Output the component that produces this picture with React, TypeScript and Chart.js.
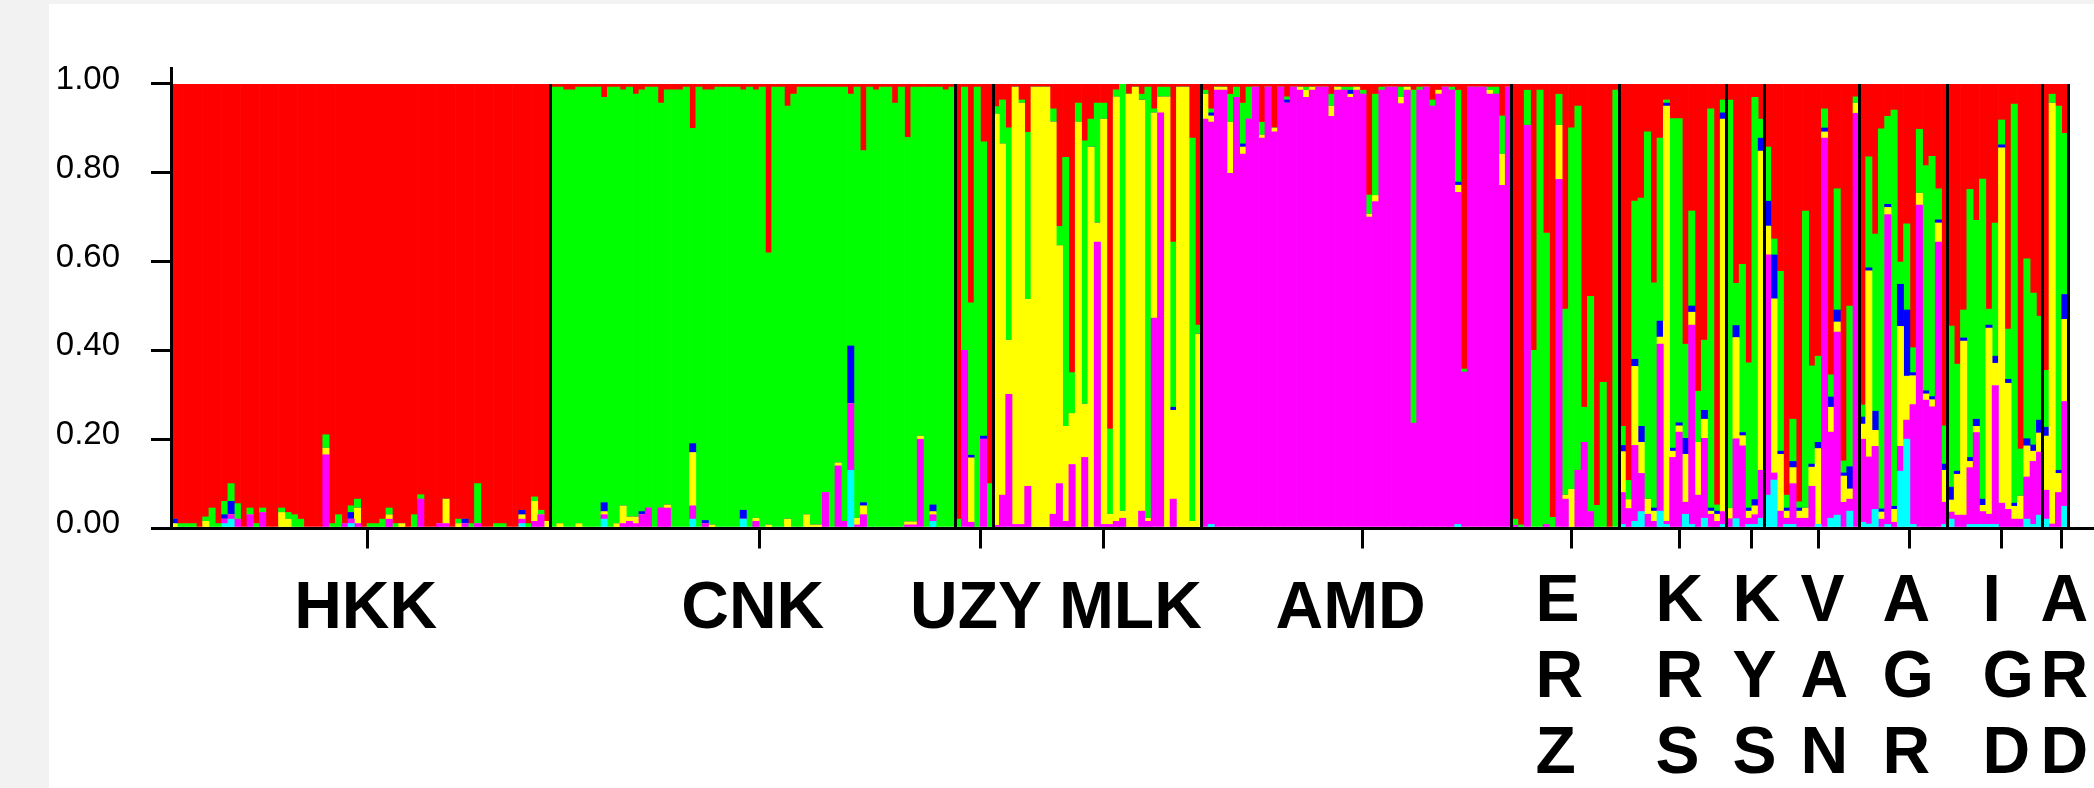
import React, { useEffect, useRef } from "react";
import { Chart, registerables } from "chart.js";
Chart.register(...registerables);

// ---------------- DATA ----------------
// Population labels (order along the x axis)
const POPULATIONS = ["HKK", "CNK", "UZY", "MLK", "AMD", "ERZ", "KRS", "KYS", "VAN", "AGR", "IGD", "ARD"];
// Clusters, stacked bottom -> top
const CLUSTERS = ["Cluster cyan", "Cluster magenta", "Cluster yellow", "Cluster blue", "Cluster green", "Cluster red"];
// Y tick values and labels
const Y_TICKS = [0, 0.2, 0.4, 0.6, 0.8, 1.0];
const Y_TICK_LABELS = ["0.00", "0.20", "0.40", "0.60", "0.80", "1.00"];

// Membership (%) per individual: [cyan, magenta, yellow, blue, green, red]
const HKK = [
  [0,0,1,1,0,98],[0,0,0,0,1,99],[0,0,0,0,1,99],[0,0,0,0,1,99],[0,0,0,0,0,100],
  [0,0,1.5,0,1,97.5],[0,0,0,0,4.5,95.5],[0,0,0,0,1,99],[1,1,0,1,3,94],[2,1,0,3,4,90],
  [0,2,0,0,3.5,94.5],[0,0,0,0,0,100],[0,3,0,0,1.5,95.5],[0,0,0,0,1,99],[0,3.5,0,0,1,95.5],
  [0,0,0,0,0,100],[0,0,0,0,0,100],[0,0,3.5,0,1,95.5],[0,0,2,0,1.5,96.5],[0,0,0,0,3,97],
  [0,0,0,0,2,98],[0,0,0,0,0,100],[0,0,0,0,0,100],[0,0,0,0,0,100],[0,16.5,1.5,0,3,79],
  [0,0,0,0,1,99],[0,0,0,0,3,97],[0,1,0,0,0,99],[1,1,0,1.5,1.5,95],[0,1,3.5,0,2,93.5],
  [0,0,0,0,0,100],[0,0,0,0,1,99],[0,0,0,0,1,99],[0,0,0,0,2,98],[0,2,1,0,1.5,95.5],
  [0,0,0,0,1,99],[0,0,1,0,0,99],[0,0,0,0,0,100],[0,0,0,0,3,97],[0,6.5,0,0,1,92.5],
  [0,0,0,0,0,100],[0,0,0,0,0,100],[0,1,0,0,0,99],[0,1,5.5,0,0,93.5],[0,0,0,0,0,100],
  [0,0,1,0,1,98],[0,1,0,1,0,98],[0,0,0,0,1,99],[0,1,0,0,9,90],[0,0,0,0,0,100],
  [0,0,0,0,0,100],[0,0,0,0,1,99],[0,0,0,0,1,99],[0,0,0,0,0,100],[0,0,0,0,0,100],
  [1,1,1,1,0,96],[0,0,0,0,1,99],[0,1.5,4.5,0,1,93],[0,3,0,0,1,96],[0,0,1.5,0,0,98.5],
];
const CNK = [
  [0,0,0,0,99.3,0.7],[0,0,1,0,98.3,0.7],[0,0,0,0,98.7,1.3],[0,0,0,0,98.7,1.3],[0,0,1,0,98.3,0.7],
  [0,0,0,0,99.3,0.7],[0,0,0,0,99.3,0.7],[0,0,0,0,99.3,0.7],[2,1,0.7,2,91.3,3],[0,0,0,0,99.3,0.7],
  [0,0,1,0,98.3,0.7],[0,1,4,0,93.7,1.3],[0,1.5,1,0,96.8,0.7],[0,1,1.5,0,95.2,2.3],[0,3,0,0.7,95,1.3],
  [0,4.5,0,0,94.8,0.7],[0,0,0,0,99.3,0.7],[0,4.5,0,0,91.2,4.3],[0,4.5,0.7,0,93.5,1.3],[0,0,0,0,98.7,1.3],
  [0,0,0,0,98.7,1.3],[0,0,0,0,99.3,0.7],[2,3,12,2,71,10],[0,0,0,0,99.3,0.7],[0,1,0,0.7,97,1.3],
  [0,0,0.7,0,98,1.3],[0,0,0,0,99.3,0.7],[0,0,0,0,99.3,0.7],[0,0,0,0,99.3,0.7],[0,0,0,0,99.3,0.7],
  [2,0,0,2,94.7,1.3],[0,0,0,0,99.3,0.7],[0,1.5,0.7,0,96.5,1.3],[0,0,0,0,99.3,0.7],[0,0,0.7,0,61.3,38],
  [0,0,0,0,99.3,0.7],[0,0,0,0,99.3,0.7],[0,0,2,0,93,5],[0,0,0,0,97.7,2.3],[0,0,0,0,99.3,0.7],
  [0,0,3,0,96.3,0.7],[0,0,0.7,0,98.6,0.7],[0,0,0.7,0,98.6,0.7],[0,8,0,0,91.3,0.7],[0,0,0,0,99.3,0.7],
  [0,14,0.7,0,84.6,0.7],[0,1.5,0,0,97.8,0.7],[13,15,0,13,56.7,2.3],[0,0.7,1.5,0,97.1,0.7],[0,3,2,0.7,79.3,15],
  [0,0,0,0,99.3,0.7],[0,0,0,0,98.7,1.3],[0,0,0,0,99.3,0.7],[0,0,0,0,99.3,0.7],[0,0,0,0,95.7,4.3],
  [0,0,0,0,99.3,0.7],[0,0.7,0.7,0,86.6,12],[0,0.7,0.7,0,97.9,0.7],[0,20,0.7,0,78.6,0.7],[0,0,0,0,99.3,0.7],
  [1.5,1.5,0.7,1.5,94.1,0.7],[0,0,0,0,99.3,0.7],[0,0,0,0,98.7,1.3],[0,0,0,0,99.3,0.7],
];
const UZY = [
  [0,0,0,0,2,98],[0,40,0,0,59.3,0.7],[0,1.3,14.5,0.6,34.3,49.3],[0,0,0,0,99.3,0.7],
  [0,20,0,0.7,66.3,13],[0,0,0,0,10,90],
];
const MLK = [
  [0,0.6,92.6,0,1.7,5.1],[0,7.4,79.1,0,9.9,3.6],[0,30.1,12.2,0,47.8,9.9],[0,0.8,98.5,0,0,0.7],
  [0,0.8,94.9,0,0.7,3.6],[0,9.4,42.1,0,37.6,10.9],[0,0,99.3,0,0,0.7],[0,0,99.3,0,0,0.7],
  [0,0,99.3,0,0,0.7],[0,3.1,88.4,0,2.9,5.6],[0,10,53.6,0,4.3,32.1],[0,1.5,21.4,0,60.6,16.5],
  [0,14.3,11.5,0,9.2,65],[0,0,91.4,0,4.3,4.3],[0,15.9,12,0,59.3,12.8],[0,0,85.8,0,6.3,7.9],
  [0,64.4,4.3,0,27,4.3],[0,0.8,91.3,0,3.6,4.3],[0,0.8,2.3,0,19.2,77.7],[0,1.5,95.6,0,1.6,1.3],
  [0,2.2,1.6,0,96.2,0],[0,0,97.7,0,0,2.3],[0,0,99.3,0,0,0.7],[0,3.8,92.6,0,1.3,2.3],
  [0,1.5,0.7,0,97.1,0.7],[0,47.3,46.2,0,0.9,5.6],[0,93.5,3.6,0,2.2,0.7],[0,0,97.1,0,2.2,0.7],
  [0,6.5,20,0.7,37.2,35.6],[0,0,99.3,0,0,0.7],[0,0,99.3,0,0,0.7],[0,0,1.5,0,86.3,12.2],
  [0,0,43.7,0,2,54.3],
];
const AMD = [
  [0,92.1,5.6,0,0.9,1.4],[0.8,90.6,1.4,0.7,0.9,5.6],[0,98.6,0.7,0,0,0.7],[0,98.6,0.7,0,0,0.7],
  [0,79.9,11.5,0,6.3,2.3],[0,97,0,0,2.3,0.7],[0,84.2,1.6,0.7,9.2,4.3],[0,92.1,0,0,7.2,0.7],
  [0,99.3,0,0,0,0.7],[0,87.8,0.7,0,2.9,8.6],[0,99.3,0,0,0,0.7],[0,89.2,0.9,0,0,9.9],
  [0,99.3,0,0,0,0.7],[0,95.7,0,0.7,0.7,2.9],[0,99.3,0,0,0,0.7],[0,98.6,0.7,0,0,0.7],
  [0,97,1.6,0,0.7,0.7],[0,98.6,0.7,0,0,0.7],[0,99.3,0,0,0,0.7],[0,99.3,0,0,0,0.7],
  [0,92.7,2.3,0,2.7,2.3],[0,98.6,0.7,0,0,0.7],[0,98.6,0,0,0.7,0.7],[0,97,0.7,0.9,0.7,0.7],
  [0,98.6,0.7,0,0,0.7],[0,97.7,0,0,0.9,1.4],[0,70,0.7,0,4.3,25],[0,73.5,1.4,0,22.8,2.3],
  [0,98.6,0,0,0.7,0.7],[0,99.3,0,0,0,0.7],[0,99.3,0,0,0,0.7],[0,95.6,1.4,0,2.3,0.7],
  [0,98.6,0.7,0,0,0.7],[0,23.6,0,0,75,1.4],[0,98.6,0,0,0.7,0.7],[0,99.3,0,0,0,0.7],
  [0,95,0,0,1.4,3.6],[0,97.7,0.9,0,0,1.4],[0,99.3,0,0,0,0.7],[0,98.6,0,0,0.7,0.7],
  [0.8,74.8,1.6,0.7,20.7,1.4],[0,35.1,0,0,0.7,64.2],[0,99.3,0,0,0,0.7],[0,99.3,0,0,0,0.7],
  [0,99.3,0,0,0,0.7],[0,97.7,0.9,0,0.7,0.7],[0,97.7,0,0,1.6,0.7],[0,77.2,7,0,8.6,7.2],
  [0,99.3,0,0,0,0.7],
];
const ERZ = [
  [0,0.6,0,0,1.4,98],[0,0,0,0,0.7,99.3],[0,90.7,0,0,7.9,1.4],[0,0,0,0,40,60],
  [0,0,0,0,98.6,1.4],[0,0.8,0,0,65.6,33.6],[0,0,0,0,2.4,97.6],[0,78.5,12.2,0,7,2.3],
  [0,6.5,0.9,0,41.9,50.7],[0,0,8.7,0,81.4,9.9],[0,13,0,0,82,5],[0,19.3,0,0,7.9,72.8],
  [0,3.7,0,0,48.5,47.8],[0,0,0,0,5.1,94.9],[0,0,0,0,32.8,67.2],[0,0,0,0,0,100],
  [0,0,0,0,98.6,1.4],
];
const KRS = [
  [0.8,7.2,9.2,1.4,4.3,77.1],[0,4.4,2,0,4.3,89.3],[1.5,17.1,17.8,1.6,35.6,26.4],
  [3.7,8.6,7,3.6,51.4,25.7],[0,3.1,3.4,0,82.7,10.8],[0,1.5,2.3,0.7,50.7,44.8],
  [3.8,37.6,1.6,3.6,41.2,12.2],[0.8,0.7,93.5,0.7,0.7,3.6],[0,15.9,1.4,0.7,74.2,7.8],
  [0,21.6,1.4,0.7,68.5,7.8],[3.1,2.7,10.8,3.6,21.2,58.6],[0.8,44.9,2.9,1.4,21.4,28.6],
  [0,7.4,11.9,0,11.5,69.2],[2.2,18,4.3,2,15.8,57.7],[0,3.1,0.7,0.7,89.9,5.6],
  [0,1.5,1.6,0.7,1.4,94.8],[0.8,2.9,88.4,1.4,2.9,3.6],
];
const KYS = [
  [0,2.1,2.3,0,92,3.6],[2.1,18,22.8,2.7,9.5,44.9],[0,18.5,2.3,0.7,37.9,40.6],
  [0.8,1.4,1.6,0.7,32.7,62.8],[0.8,2.2,2,1.4,90.6,3],[2.2,10.8,71.9,2.9,4.3,7.9],
];
const VAN = [
  [7.4,54.1,6.5,5.6,12.2,14.2],[10.8,1.6,39.2,9.9,3.6,34.9],[0,3.8,12.8,0.7,40.5,42.2],
  [0.8,1.4,1.6,0.7,2.9,92.6],[0.8,9.2,3.6,1.4,9.5,75.5],[0,2.2,1.6,0.7,1.4,94.1],
  [0,2.2,2.3,0,66.9,28.6],[0,9.4,4.3,0.7,22.1,63.5],[0.8,0,17.1,1.4,19.4,61.3],
  [0,87.8,1.4,0.9,4.3,5.6],[2.2,19.4,5.6,2.3,5,65.5],[2.9,41.2,2.3,2.7,27.3,23.6],
  [0,5.8,5.9,0.7,2.7,84.9],[3.8,2.7,2.3,5,36.2,50],[0,93.4,2.3,0,1.4,2.9],
];
const AGR = [
  [1.3,18.7,3.4,1.6,2.7,72.3],[0.9,15.1,41.9,0.7,25,16.4],[4.2,14.2,3.6,4.3,39.9,33.8],
  [0,2,1.6,0.7,85.6,10.1],[0.8,69.8,1.6,0.7,19.8,7.3],[0,1.3,2.9,0.7,89.2,5.9],
  [12.8,5.6,27,9.5,5,40.1],[20,4.3,9.9,14.9,19.4,31.5],[0.8,27,6.5,0.7,5.6,59.4],
  [0,72.7,2.7,0,14.4,10.2],[0,28.8,1.4,0.7,50.7,18.4],[0,27.3,1.6,0.7,54.1,16.3],
  [0,64.4,4.3,0.7,7,23.6],[0.8,5,7.2,1.4,8.6,77],
];
const IGD = [
  [2,1.6,2.7,2.9,36.3,54.5],[0,2.9,9.2,0.7,24.1,63.1],[0,2.9,39.2,0.7,6.3,50.9],
  [0.8,12.8,1.4,0.9,60.4,23.7],[0.8,20.7,1.4,1.6,44.8,30.7],[0.8,2.9,1.4,1.4,72.1,21.4],
  [0.8,2.3,41.9,0.7,3.6,50.7],[0.8,31.3,5,1.6,30,31.3],[0,5.6,80,0.7,5.6,8.1],
  [0,4.2,28.4,0.9,11.3,55.2],[0,2,2.9,0.7,89.9,4.5],[0,2,5.2,0,10.6,82.2],
  [2,9.5,7,1.6,40.5,39.4],[0.8,14.2,2.3,1.4,34.2,47.1],[2.9,14.2,4.3,2.9,23.4,52.3],
];
const ARD = [
  [2,6.5,12.2,2,12.8,64.5],[0,0.9,94.8,0,2,2.3],[0,8,4.3,0.7,82,5],[4.9,23.6,18.5,5.6,36.3,11.1],
];

const GROUPS = [HKK, CNK, UZY, MLK, AMD, ERZ, KRS, KYS, VAN, AGR, IGD, ARD];

// ---------------- STYLE / LAYOUT ----------------
const CLUSTER_COLORS = ["#00ffff", "#ff00ff", "#ffff00", "#0000ff", "#00ff00", "#ff0000"];
const LABEL_STACKED = [false, false, false, false, false, true, true, true, true, true, true, true];
const LABEL_DX = [5, 0, 2, 33, -6, -36, -24, -19, -18, -27, -19, -21];
const FONT_FAMILY = "'Liberation Sans', Arial, sans-serif";

export default function App() {
  const ref = useRef<HTMLCanvasElement | null>(null);

  useEffect(() => {
    const canvas = ref.current;
    if (!canvas) return;
    const rows = GROUPS.flat();
    const labels: string[] = [];
    GROUPS.forEach((g, gi) => g.forEach((_, i) => labels.push(`${POPULATIONS[gi]} ${i + 1}`)));
    const starts: number[] = [];
    let acc = 0;
    GROUPS.forEach((g) => {
      starts.push(acc);
      acc += g.length;
    });
    const total = acc;

    const datasets = CLUSTERS.map((name, k) => ({
      label: name,
      data: rows.map((r) => r[k] / 100),
      backgroundColor: CLUSTER_COLORS[k],
      borderWidth: 0,
      barPercentage: 1,
      categoryPercentage: 1,
    }));

    const decor = {
      id: "structureDecor",
      beforeDatasetsDraw(chart: any) {
        const { ctx, chartArea } = chart;
        const y = chart.scales.y;
        const top = y.getPixelForValue(1);
        const bottom = y.getPixelForValue(0);
        ctx.save();
        ctx.beginPath();
        ctx.rect(chartArea.left, top, chartArea.right - chartArea.left, bottom - top);
        ctx.clip();
      },
      afterDatasetsDraw(chart: any) {
        chart.ctx.restore();
      },
      afterDraw(chart: any) {
        const { ctx, chartArea } = chart;
        const x = chart.scales.x;
        const y = chart.scales.y;
        const y0 = Math.floor(y.getPixelForValue(0)) + 0.5;
        const y1 = y.getPixelForValue(1);
        ctx.save();
        // y tick labels (slightly above tick, as in the reference)
        ctx.fillStyle = "#000";
        ctx.font = `33px ${FONT_FAMILY}`;
        ctx.textAlign = "right";
        ctx.textBaseline = "middle";
        Y_TICKS.forEach((v, i) => {
          ctx.fillText(Y_TICK_LABELS[i], chartArea.left - 51, y.getPixelForValue(v) - 4);
        });
        ctx.strokeStyle = "#000";
        ctx.lineWidth = 3;
        ctx.lineCap = "butt";
        // population separators
        const bounds = [...starts, total];
        bounds.forEach((b) => {
          const px = Math.floor(x.getPixelForValue(b - 0.5)) + 0.5;
          ctx.beginPath();
          ctx.moveTo(px, y1);
          ctx.lineTo(px, y0);
          ctx.stroke();
        });
        // x baseline
        ctx.beginPath();
        ctx.moveTo(chartArea.left - 20, y0);
        ctx.lineTo(chart.width, y0);
        ctx.stroke();
        // ticks and labels
        ctx.font = `bold 66px ${FONT_FAMILY}`;
        ctx.textBaseline = "alphabetic";
        GROUPS.forEach((g, gi) => {
          const n = g.length;
          const tickX = Math.floor(x.getPixelForValue(starts[gi] + n / 2 + 0.5)) + 0.5;
          ctx.beginPath();
          ctx.moveTo(tickX, y0);
          ctx.lineTo(tickX, y0 + 20);
          ctx.stroke();
          const name = POPULATIONS[gi];
          if (LABEL_STACKED[gi]) {
            ctx.textAlign = "left";
            name.split("").forEach((ch, li) => {
              ctx.fillText(ch, tickX + LABEL_DX[gi], 617 + li * 76);
            });
          } else {
            ctx.textAlign = "center";
            const cx = x.getPixelForValue(starts[gi] + n / 2 - 0.5);
            ctx.fillText(name, cx + LABEL_DX[gi], 624);
          }
        });
        ctx.restore();
      },
    };

    const chart = new Chart(canvas, {
      type: "bar",
      data: { labels, datasets },
      options: {
        responsive: false,
        animation: false,
        devicePixelRatio: 1,
        events: [],
        layout: { padding: { left: 0, top: 64, right: 26, bottom: 260 } },
        plugins: { legend: { display: false }, tooltip: { enabled: false } },
        scales: {
          x: { type: "category", stacked: true, display: false, offset: true },
          y: {
            stacked: true,
            min: 0,
            max: 1.036,
            afterBuildTicks: (s: any) => {
              s.ticks = Y_TICKS.map((v) => ({ value: v }));
            },
            afterFit: (s: any) => {
              s.width = 122;
            },
            ticks: {
              display: false,
              font: { family: FONT_FAMILY, size: 33 },
              color: "#000",
              padding: 31,
            },
            grid: {
              drawOnChartArea: false,
              drawTicks: true,
              tickLength: 20,
              tickWidth: 3,
              tickColor: "#000",
              lineWidth: 3,
              color: "#000",
            },
            border: { display: true, color: "#000", width: 3 },
          },
        },
      } as any,
      plugins: [decor],
    });
    return () => chart.destroy();
  }, []);

  return (
    <div
      style={{
        position: "fixed",
        left: 0,
        top: 0,
        width: 2094,
        height: 788,
        background: "#f2f2f2",
        overflow: "hidden",
      }}
    >
      <canvas
        ref={ref}
        width={2045}
        height={784}
        style={{ position: "absolute", left: 49, top: 4, width: 2045, height: 784, background: "#fff", display: "block" }}
      />
    </div>
  );
}
